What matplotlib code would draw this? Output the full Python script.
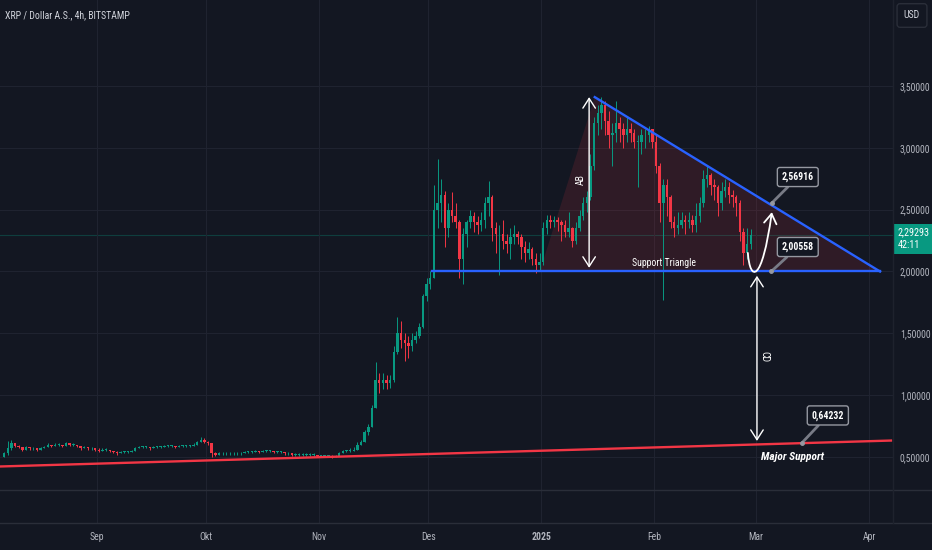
import numpy as np
import pandas as pd
import matplotlib
matplotlib.use("Agg")
import matplotlib.pyplot as plt
import matplotlib.dates as mdates
from matplotlib.patches import Polygon, FancyArrowPatch
from matplotlib.path import Path
from matplotlib.lines import Line2D
from matplotlib import font_manager

# ---- data: daily XRP/USD candles (Aug 6 2024 .. Feb 27 2025)
start_day = "2024-08-06"
first_open = 0.50

closes = [
    # Aug 6-31
    0.53, 0.57, 0.61, 0.59, 0.58, 0.56, 0.58, 0.57, 0.57, 0.56, 0.57, 0.58, 0.60,
    0.59, 0.60, 0.60, 0.59, 0.61, 0.60, 0.60, 0.59, 0.57, 0.58, 0.57, 0.57, 0.56,
    # Sep
    0.55, 0.56, 0.56, 0.55, 0.54, 0.53, 0.54, 0.54, 0.54, 0.55, 0.57, 0.58, 0.58,
    0.58, 0.57, 0.58, 0.58, 0.58, 0.59, 0.59, 0.59, 0.58, 0.59, 0.59, 0.59, 0.59,
    0.60, 0.62, 0.64, 0.62,
    # Oct
    0.61, 0.53, 0.52, 0.53, 0.53, 0.53, 0.53, 0.53, 0.53, 0.53, 0.54, 0.54, 0.54,
    0.55, 0.54, 0.55, 0.55, 0.55, 0.54, 0.54, 0.54, 0.53, 0.53, 0.52, 0.52, 0.52,
    0.52, 0.52, 0.52, 0.52, 0.51,
    # Nov
    0.51, 0.51, 0.51, 0.50, 0.51, 0.53, 0.55, 0.55, 0.55, 0.56, 0.60, 0.62, 0.70,
    0.74, 0.90, 1.12, 1.10, 1.12, 1.10, 1.12, 1.35, 1.50, 1.45, 1.42, 1.40, 1.45,
    1.48, 1.55, 1.80, 1.90,
    # Dec
    1.95, 2.50, 2.55, 2.62, 2.35, 2.50, 2.45, 2.40, 2.10, 2.30, 2.40, 2.45, 2.40,
    2.38, 2.42, 2.55, 2.60, 2.35, 2.30, 2.30, 2.25, 2.22, 2.28, 2.30, 2.28, 2.20,
    2.15, 2.18, 2.10, 2.05, 2.08,
    # Jan
    2.35, 2.42, 2.40, 2.42, 2.40, 2.38, 2.32, 2.35, 2.25, 2.35, 2.45, 2.55, 2.60,
    2.85, 3.20, 3.28, 3.35, 3.22, 3.10, 3.12, 3.20, 3.15, 3.10, 3.15, 3.12, 3.05,
    3.05, 3.10, 3.10, 3.15, 3.05,
    # Feb 1-27
    2.85, 2.55, 2.70, 2.60, 2.40, 2.35, 2.38, 2.42, 2.40, 2.42, 2.38, 2.45, 2.55,
    2.75, 2.78, 2.70, 2.68, 2.55, 2.65, 2.68, 2.62, 2.60, 2.55, 2.32, 2.15, 2.22,
    2.29293,
]
highs = [
    0.54, 0.63, 0.64, 0.61, 0.60, 0.58, 0.59, 0.58, 0.58, 0.57, 0.58, 0.59, 0.61,
    0.60, 0.61, 0.61, 0.60, 0.62, 0.61, 0.61, 0.60, 0.59, 0.59, 0.58, 0.58, 0.57,
    0.57, 0.57, 0.57, 0.56, 0.55, 0.55, 0.55, 0.55, 0.55, 0.56, 0.58, 0.59, 0.59,
    0.59, 0.58, 0.59, 0.59, 0.59, 0.60, 0.60, 0.60, 0.59, 0.60, 0.60, 0.60, 0.60,
    0.61, 0.63, 0.66, 0.65,
    0.63, 0.61, 0.54, 0.54, 0.54, 0.54, 0.54, 0.54, 0.54, 0.54, 0.55, 0.55, 0.55,
    0.56, 0.55, 0.56, 0.56, 0.56, 0.55, 0.55, 0.55, 0.54, 0.54, 0.53, 0.53, 0.53,
    0.53, 0.53, 0.53, 0.53, 0.52,
    0.52, 0.52, 0.52, 0.52, 0.52, 0.54, 0.56, 0.56, 0.57, 0.58, 0.62, 0.64, 0.72,
    0.77, 0.92, 1.27, 1.18, 1.18, 1.16, 1.16, 1.40, 1.63, 1.60, 1.50, 1.48, 1.50,
    1.52, 1.58, 1.82, 1.95,
    2.00, 2.70, 2.91, 2.75, 2.65, 2.55, 2.64, 2.55, 2.42, 2.35, 2.42, 2.50, 2.48,
    2.45, 2.48, 2.60, 2.73, 2.62, 2.40, 2.38, 2.42, 2.30, 2.35, 2.38, 2.33, 2.30,
    2.25, 2.24, 2.20, 2.15, 2.15,
    2.40, 2.46, 2.46, 2.45, 2.44, 2.42, 2.42, 2.48, 2.36, 2.40, 2.50, 2.60, 2.65,
    2.95, 3.25, 3.35, 3.41, 3.38, 3.30, 3.20, 3.38, 3.25, 3.20, 3.25, 3.20, 3.15,
    3.10, 3.15, 3.15, 3.18, 3.15,
    3.10, 2.88, 2.75, 2.75, 2.62, 2.45, 2.48, 2.48, 2.46, 2.48, 2.46, 2.55, 2.60,
    2.82, 2.85, 2.80, 2.75, 2.70, 2.72, 2.75, 2.72, 2.66, 2.62, 2.58, 2.35, 2.35,
    2.34,
]
lows = [
    0.50, 0.52, 0.56, 0.58, 0.57, 0.55, 0.56, 0.56, 0.56, 0.55, 0.56, 0.57, 0.58,
    0.58, 0.59, 0.59, 0.58, 0.59, 0.59, 0.59, 0.58, 0.56, 0.57, 0.56, 0.56, 0.55,
    0.54, 0.55, 0.55, 0.54, 0.53, 0.52, 0.53, 0.53, 0.53, 0.54, 0.55, 0.57, 0.57,
    0.57, 0.56, 0.57, 0.57, 0.57, 0.58, 0.58, 0.58, 0.57, 0.58, 0.58, 0.58, 0.58,
    0.59, 0.60, 0.62, 0.61,
    0.60, 0.50, 0.51, 0.52, 0.52, 0.52, 0.52, 0.52, 0.52, 0.52, 0.53, 0.53, 0.53,
    0.54, 0.53, 0.54, 0.54, 0.54, 0.53, 0.53, 0.53, 0.52, 0.52, 0.51, 0.51, 0.51,
    0.51, 0.51, 0.51, 0.51, 0.50,
    0.50, 0.50, 0.50, 0.49, 0.50, 0.51, 0.53, 0.54, 0.54, 0.55, 0.56, 0.60, 0.62,
    0.68, 0.74, 0.90, 1.02, 1.05, 1.05, 1.06, 1.11, 1.33, 1.38, 1.28, 1.30, 1.36,
    1.42, 1.46, 1.54, 1.76,
    1.86, 1.95, 2.35, 2.40, 2.20, 2.28, 2.40, 2.35, 1.95, 1.90, 2.20, 2.35, 2.32,
    2.30, 2.33, 2.35, 2.45, 2.25, 2.15, 1.97, 2.18, 2.15, 2.10, 2.22, 2.22, 2.10,
    2.08, 2.10, 2.05, 1.99, 2.00,
    2.05, 2.30, 2.35, 2.36, 2.33, 2.25, 2.28, 2.28, 2.20, 2.22, 2.33, 2.42, 2.48,
    2.58, 2.82, 3.10, 3.15, 3.10, 3.00, 2.85, 3.05, 3.05, 3.00, 3.05, 3.05, 3.00,
    2.68, 2.95, 3.00, 3.05, 3.00,
    2.80, 2.40, 1.77, 2.45, 2.35, 2.28, 2.30, 2.35, 2.30, 2.35, 2.32, 2.32, 2.40,
    2.52, 2.68, 2.62, 2.58, 2.45, 2.50, 2.60, 2.55, 2.52, 2.45, 2.25, 2.05, 2.10,
    2.18,
]

price_ticks = [0.5, 1.0, 1.5, 2.0, 2.5, 3.0, 3.5]
month_ticks = ["2024-09-01", "2024-10-01", "2024-11-01", "2024-12-01",
               "2025-01-01", "2025-02-01", "2025-03-01", "2025-04-01"]
month_labels = ["Sep", "Okt", "Nov", "Des", "2025", "Feb", "Mar", "Apr"]

# ---- drawings on the chart (date, price)
tri_left = ("2024-12-31 14:00", 2.0)
tri_apex = ("2025-01-15 16:00", 3.41)
tri_right = ("2025-04-04 00:00", 2.0)
support_start = "2024-12-02"
major_support = [("2024-08-05", 0.423), ("2025-04-07", 0.633)]
ab_arrow = ("2025-01-14 03:00", 2.03, 3.41)
cd_arrow = ("2025-03-01 05:00", 1.965, 0.63)
bounce_curve = [("2025-02-26 17:00", 2.15), ("2025-02-27 07:00", 1.915),
                ("2025-03-02 14:00", 1.90), ("2025-03-05 07:00", 2.48)]
callouts = [
    ("2,56916", ("2025-03-05 07:00", 2.554), ("2025-03-12 10:00", 2.764)),
    ("2,00558", ("2025-03-05 03:00", 2.0), ("2025-03-12 10:00", 2.198)),
    ("0,64232", ("2025-03-13 14:00", 0.615), ("2025-03-20 16:00", 0.836)),
]

# ---- style
BG = "#131722"
GRID = "#1f2330"
TXT = "#d1d4dc"
UP, DOWN = "#089981", "#f23645"
BLUE = "#2962ff"

names = {f.name for f in font_manager.fontManager.ttflist}
narrow = next((n for n in ["Liberation Sans Narrow", "Roboto Condensed",
                           "Open Sans Condensed", "Noto Sans Condensed"] if n in names), "Roboto")
plt.rcParams["font.family"] = [narrow, "DejaVu Sans"]


def dn(s):
    return mdates.date2num(pd.Timestamp(s))


W, H = 932, 550
fig = plt.figure(figsize=(W / 100, H / 100), dpi=100, facecolor=BG)
ax = fig.add_axes([0, 1 - 490 / H, 893 / W, 490 / H], facecolor=BG)
ax2 = fig.add_axes([0, 27 / H, 893 / W, 33 / H], facecolor=BG, sharex=ax)

# candles
c = np.array(closes)
hi = np.array(highs)
lo = np.array(lows)
o = np.concatenate([[first_open], c[:-1]])
days = pd.date_range(start_day, periods=len(c), freq="D")
x = mdates.date2num(days) + 0.5
cols = np.where(c >= o, UP, DOWN)
ax.vlines(x, np.minimum(lo, np.minimum(o, c)), np.maximum(hi, np.maximum(o, c)),
          colors=cols, lw=0.7, zorder=3)
ax.bar(x, np.maximum(np.abs(c - o), 0.006), bottom=np.minimum(o, c), width=0.68,
       color=cols, lw=0, zorder=4)

# axes limits and grid
sep1 = dn("2024-09-01")
ax.set_xlim(sep1 - 97 / 3.642, sep1 + 796 / 3.642)
ax.set_ylim(0.5 - 33 / 123.67, 0.5 + 457 / 123.67)
for a in (ax, ax2):
    for s in a.spines.values():
        s.set_visible(False)
    a.xaxis.set_major_locator(matplotlib.ticker.FixedLocator([dn(m) for m in month_ticks]))
    a.grid(axis="x", color=GRID, lw=0.8, zorder=0)
ax.set_yticks(price_ticks)
ax.grid(axis="y", color=GRID, lw=0.8, zorder=0)
ax.yaxis.tick_right()
ax.yaxis.set_major_formatter(matplotlib.ticker.FuncFormatter(
    lambda v, _: f"{v:.5f}".replace(".", ",")))
ax.tick_params(axis="y", length=0, pad=5, labelsize=7, colors="#b2b5be")
ax.tick_params(axis="x", length=0, labelbottom=False)
ax2.set_yticks([])
ax2.xaxis.set_major_formatter(matplotlib.ticker.FixedFormatter(month_labels))
ax2.tick_params(axis="x", length=0, pad=6.5, labelsize=7, colors="#b2b5be")
for lab in ax2.get_xticklabels():
    if lab.get_text() == "2025":
        lab.set_fontweight("bold")

# pane separators
for yy in (490, 523):
    fig.add_artist(Line2D([0, 1], [1 - yy / H] * 2, color="#2a2e39", lw=1))
fig.add_artist(Line2D([893 / W] * 2, [27 / H, 1], color="#1e222d", lw=1))

# triangle
tl = (dn(tri_left[0]), tri_left[1])
ta = (dn(tri_apex[0]), tri_apex[1])
tr = (dn(tri_right[0]), tri_right[1])
ax.add_patch(Polygon([tl, ta, tr], closed=True, fc=DOWN, alpha=0.13, ec="none", zorder=2))
ax.plot([dn(support_start), tr[0]], [2.0, 2.0], color=BLUE, lw=1.7, zorder=5)
ax.plot([ta[0], tr[0]], [ta[1], tr[1]], color=BLUE, lw=1.7, zorder=5)

# major support
ax.plot([dn(p[0]) for p in major_support], [p[1] for p in major_support],
        color=DOWN, lw=1.7, zorder=5)

# current price line and tag
last = closes[-1]
ax.axhline(last, color=UP, lw=0.8, alpha=0.3, zorder=1)
ax.annotate(f"{last:.5f}".replace(".", ",") + "\n42:11", xy=(1.0, last),
            xycoords=ax.get_yaxis_transform(), xytext=(3.2, 5.5), textcoords="offset points",
            ha="left", va="top", fontsize=7.3, color="white", linespacing=1.35,
            bbox=dict(boxstyle="square,pad=0.35", fc=UP, ec="none"), annotation_clip=False)

# arrows
arr = dict(arrowstyle="<->,head_length=0.7,head_width=0.45", color="white", lw=1,
           shrinkA=0, shrinkB=0, mutation_scale=10)
ax.annotate("", xy=(dn(ab_arrow[0]), ab_arrow[2]), xytext=(dn(ab_arrow[0]), ab_arrow[1]),
            arrowprops=arr, zorder=6)
ax.annotate("", xy=(dn(cd_arrow[0]), cd_arrow[2]), xytext=(dn(cd_arrow[0]), cd_arrow[1]),
            arrowprops=arr, zorder=6)
ax.text(dn(ab_arrow[0]) - 2.2, 2.74, "AB", rotation=90, color="white", fontsize=7,
        ha="center", va="center", zorder=6)
ax.text(dn(cd_arrow[0]) + 1.9, 1.31, "CD", rotation=-90, color="white", fontsize=7,
        ha="center", va="center", zorder=6)
ax.text(dn("2025-02-03 16:00"), 2.07, "Support Triangle", color="white", fontsize=7,
        ha="center", va="center", zorder=6)
ax.text(dn("2025-03-11 02:00"), 0.50, "Major Support", color="white", fontsize=8.2,
        fontweight="bold", fontstyle="italic", ha="center", va="center", zorder=6)

verts = [(dn(p[0]), p[1]) for p in bounce_curve]
curve = FancyArrowPatch(path=Path(verts, [Path.MOVETO, Path.CURVE4, Path.CURVE4, Path.CURVE4]),
                        arrowstyle="->,head_length=0.7,head_width=0.45", mutation_scale=10,
                        color="white", lw=1.3, zorder=6)
ax.add_patch(curve)

# callouts
for label, tip, box in callouts:
    tx, bx = dn(tip[0]), dn(box[0])
    ax.annotate(label, xy=(tx, tip[1]), xytext=(bx, box[1]), ha="center", va="center",
                fontsize=7, fontweight="bold", color="white", zorder=7,
                bbox=dict(boxstyle="round,pad=0.45,rounding_size=0.25", fc=BG, ec="#9598a1", lw=1),
                arrowprops=dict(arrowstyle="-", color="#787b86", lw=2, shrinkA=0, shrinkB=0))
    ax.plot(tx, tip[1], "o", ms=2.5, color="#9598a1", zorder=7)

# header texts
fig.text(5 / W, 1 - 15 / H, "XRP / Dollar A.S., 4h, BITSTAMP", color=TXT, fontsize=7.1,
         ha="left", va="center")
fig.text(912 / W, 1 - 15.5 / H, "USD", color=TXT, fontsize=7, ha="center", va="center",
         bbox=dict(boxstyle="round,pad=0.7,rounding_size=0.3", fc=BG, ec="#2a2e39", lw=1))

fig.savefig("out.png", dpi=100, facecolor=BG)
